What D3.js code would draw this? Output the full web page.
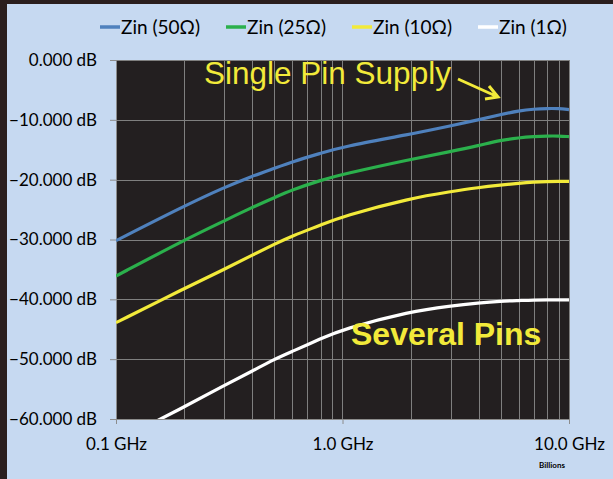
<!DOCTYPE html>
<html>
<head>
<meta charset="utf-8">
<script src="https://cdn.jsdelivr.net/npm/d3@7"></script>
<style>
  body { margin: 0; background: #2a1e1e; }
  svg { display: block; }
  .tick text { font-family: Lato, "Open Sans", sans-serif; fill: #000; }
</style>
</head>
<body>
<div id="chart"></div>
<script>
// frequencies in GHz
var freqs = [0.1, 0.2, 0.3, 0.4, 0.5, 0.6, 0.8, 1.0, 2, 3, 4, 5, 6, 7, 8, 9, 10];

var zin50 = [-30.2, -24.4, -21.3, -19.4, -18.1, -17.0, -15.6, -14.5, -12.4, -11.0, -10.0, -9.1, -8.5, -8.2, -8.1, -8.1, -8.3];
var zin25 = [-36.1, -30.1, -26.9, -24.6, -23.0, -21.7, -20.1, -19.1, -16.6, -15.3, -14.3, -13.4, -13.0, -12.8, -12.7, -12.7, -12.8];
var zin10 = [-43.9, -38.2, -35.0, -32.6, -30.8, -29.4, -27.6, -26.1, -23.1, -22.0, -21.3, -20.9, -20.6, -20.4, -20.3, -20.3, -20.3];
var zin1  = [-63.8, -58.0, -54.4, -52.0, -50.0, -48.7, -46.6, -45.0, -42.0, -41.1, -40.6, -40.3, -40.2, -40.1, -40.1, -40.1, -40.1];

var seriesNames = ["Zin (50\u03a9)", "Zin (25\u03a9)", "Zin (10\u03a9)", "Zin (1\u03a9)"];
var seriesColors = ["#4f81bd", "#2bb04c", "#f2ea3a", "#ffffff"];
var yTicks = [0, -10, -20, -30, -40, -50, -60];
var xTicks = [0.1, 1, 10];
var xTickLabels = ["0.1 GHz", "1.0 GHz", "10.0 GHz"];

var series = [zin50, zin25, zin10, zin1].map(function(vals, i){
    return {name: seriesNames[i], color: seriesColors[i],
            values: vals.map(function(v, j){ return {f: freqs[j], db: v}; })};
});

var W = 613, H = 479;
var margin = {top: 60, right: 44, bottom: 60, left: 116};
var width = W - margin.left - margin.right,
    height = H - margin.top - margin.bottom;

var svg = d3.select("#chart").append("svg")
    .attr("width", W)
    .attr("height", H);

// dark frame and light blue chart area
svg.append("rect").attr("width", W).attr("height", H).attr("fill", "#2a1e1e");
svg.append("rect").attr("x", 7).attr("y", 4).attr("width", W - 7).attr("height", H - 4)
    .attr("fill", "#c6d9f1");

var x = d3.scaleLog().domain([0.1, 10]).range([0, width]);
var y = d3.scaleLinear().domain([-60, 0]).range([height, 0]);

var g = svg.append("g")
    .attr("transform", "translate(" + margin.left + "," + margin.top + ")");

g.append("rect").attr("width", width).attr("height", height).attr("fill", "#231f20");

// grid
var minor = [];
[0.1, 1].forEach(function(dec){
    for (var k = 1; k <= 10; k++) minor.push(dec * k);
});
g.append("g").selectAll("line.vgrid")
    .data(minor)
    .enter().append("line")
    .attr("x1", function(d){ return Math.round(x(d)) + 0.5; })
    .attr("x2", function(d){ return Math.round(x(d)) + 0.5; })
    .attr("y1", 0).attr("y2", height)
    .attr("stroke", "#7f7f7f").attr("stroke-width", 1);

g.append("g").selectAll("line.hgrid")
    .data(yTicks)
    .enter().append("line")
    .attr("x1", 0).attr("x2", width)
    .attr("y1", function(d){ return Math.round(y(d)) + 0.5; })
    .attr("y2", function(d){ return Math.round(y(d)) + 0.5; })
    .attr("stroke", "#7f7f7f").attr("stroke-width", 1);

// axes
var yAxis = d3.axisLeft(y).tickValues(yTicks).tickSize(6).tickPadding(13)
    .tickFormat(function(d){ return d3.format(".3f")(d) + " dB"; });
var xAxis = d3.axisBottom(x).tickValues(xTicks).tickSize(5).tickPadding(14)
    .tickFormat(function(d, i){ return xTickLabels[i]; });

var ya = g.append("g").call(yAxis);
ya.select(".domain").attr("stroke", "#8c8c8c");
ya.selectAll(".tick line").attr("stroke", "#8c8c8c");
ya.selectAll(".tick text").style("font-size", "17px");

var xa = g.append("g").attr("transform", "translate(0," + height + ")").call(xAxis);
xa.select(".domain").attr("stroke", "#8c8c8c");
xa.selectAll(".tick line").attr("stroke", "#8c8c8c");
xa.selectAll(".tick text").style("font-size", "17px");

g.append("text")
    .attr("x", x(10) - 17).attr("y", height + 49)
    .attr("text-anchor", "middle")
    .style("font-family", "Lato, sans-serif").style("font-size", "8px").style("font-weight", "bold")
    .text("Billions");

// lines
g.append("clipPath").attr("id", "plotclip")
    .append("rect").attr("width", width).attr("height", height);

var line = d3.line()
    .x(function(d){ return x(d.f); })
    .y(function(d){ return y(d.db); })
    .curve(d3.curveBasis);

g.append("g").attr("clip-path", "url(#plotclip)")
    .selectAll("path.series")
    .data(series)
    .enter().append("path")
    .attr("fill", "none")
    .attr("stroke", function(d){ return d.color; })
    .attr("stroke-width", 3.2)
    .attr("d", function(d){ return line(d.values); });

// annotations
g.append("text")
    .attr("x", 204 - margin.left).attr("y", 84 - margin.top)
    .style("font-family", "'Liberation Sans', Arial, sans-serif")
    .style("font-size", "31.5px")
    .attr("fill", "#f2ea3a")
    .text("Single Pin Supply");

g.append("path")
    .attr("d", "M" + (458 - margin.left) + "," + (79 - margin.top) + " L" + (498 - margin.left) + "," + (97 - margin.top) +
         " M" + (489 - margin.left) + "," + (86 - margin.top) + " L" + (498 - margin.left) + "," + (97 - margin.top) +
         " L" + (485 - margin.left) + "," + (99 - margin.top))
    .attr("fill", "none").attr("stroke", "#f2ea3a").attr("stroke-width", 3)
    .attr("stroke-linejoin", "miter");

g.append("text")
    .attr("x", 351 - margin.left).attr("y", 345 - margin.top)
    .style("font-family", "'Liberation Sans', Arial, sans-serif")
    .style("font-size", "32px").style("font-weight", "bold")
    .attr("fill", "#f2ea3a")
    .text("Several Pins");

// legend
var legendX = [100, 226, 352, 478];
var legend = svg.append("g").selectAll("g.leg")
    .data(series)
    .enter().append("g")
    .attr("transform", function(d, i){ return "translate(" + legendX[i] + ",27)"; });
legend.append("line")
    .attr("x1", 0).attr("x2", 20).attr("y1", 0).attr("y2", 0)
    .attr("stroke", function(d){ return d.color; }).attr("stroke-width", 3.5);
legend.append("text")
    .attr("x", 21).attr("y", 0).attr("dy", "0.35em")
    .style("font-family", "Lato, sans-serif").style("font-size", "19px")
    .text(function(d){ return d.name; });
</script>
</body>
</html>
